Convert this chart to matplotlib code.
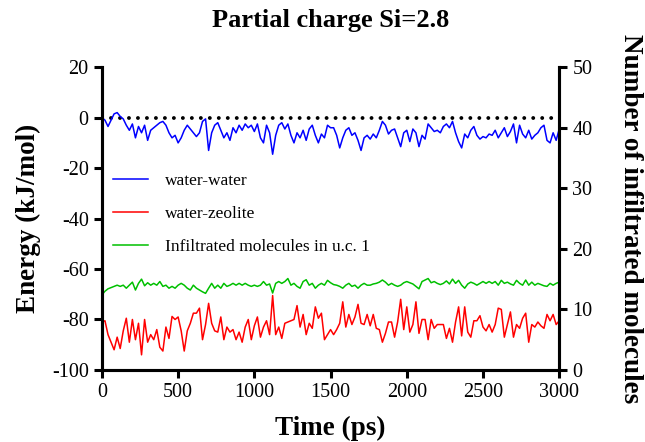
import numpy as np
import matplotlib

matplotlib.use("Agg")

import matplotlib.pyplot as plt

# Energies (kJ/mol) and infiltrated molecules, sampled every 20 ps from 0 to 3000 ps
STEP_PS = 20

water_water = [
    0, -1, -3.5, -1, 1.5, 2, 0.5, -0.5, -3, -5,
    -2.5, -8, -3.5, -6, -3, -9, -5, -4, -3, -2,
    -1.5, -3, -6, -8, -7, -10, -8, -5, -3, -4.5,
    -6, -7.5, -6, -1.5, -0.5, -13, -6, -3, -2, -5,
    -8, -6, -9, -4, -6, -3, -5, -2.5, -4, -3,
    -5.5, -2.5, -8, -10, -3, -6, -14.5, -7, -3, -2,
    -4.5, -2.5, -7, -10, -6, -8, -5, -9, -4.5, -3,
    -7, -10, -6.5, -8, -3,
    -4, -4, -7, -12, -8, -5, -4, -7, -6, -9,
    -13, -8, -7, -8.5, -6.5, -8, -5, -1.5, -3, -6.5,
    -5, -4.5, -8, -11.5, -6, -5, -9.5, -4.5, -6, -11.5,
    -7, -8.5, -2.5, -4, -5.5, -5, -6, -3.5, -2.5, -4,
    -1.5, -6, -9.5, -12, -6.5, -8, -5, -3.5, -7, -8.5,
    -7.5, -8, -6.5, -7, -5, -8, -6, -4, -7.5, -5.5,
    -2.5, -10, -3, -6.5, -8, -5, -8.5, -7, -6, -4,
    -3, -9, -10, -6, -9, -4.5,
]

water_zeolite = [
    -81, -80.5, -86, -89, -92, -87, -91.5, -84.5, -79.5, -89,
    -80, -88, -81.5, -94, -80, -89, -86, -88, -84, -91,
    -92.5, -83, -87.5, -78.8, -80, -79, -84.5, -92.5, -84.5, -81.5,
    -77.5, -77.5, -75.5, -88, -82, -73.6, -81.5, -84.5, -85, -79,
    -88, -83, -85, -84, -88, -85, -89, -83, -80, -88,
    -82.5, -79, -87, -83, -80.5, -86, -70.5, -86, -83, -87.5,
    -81.5, -81, -80.5, -80, -74.5, -83, -78, -86, -81.5, -83.5,
    -75, -79.5, -77.5, -88, -86,
    -84, -86, -84, -81.5, -73, -83, -78, -82, -79, -74,
    -81.5, -82, -78, -82.5, -78, -83.5, -84, -89, -85.5, -81,
    -81, -87, -81, -72, -84, -75, -85, -82, -73, -85.5,
    -80, -80, -88, -80, -83.5, -82, -82, -82, -87.5, -83.5,
    -89, -81, -75, -86.5, -75, -85, -87, -80.5, -80.5, -78.5,
    -83, -84.5, -82, -85, -82, -75.5, -76, -87, -82, -77,
    -87, -82, -83.5, -79.5, -77.5, -89, -82, -83, -81, -82.5,
    -83.5, -78, -80.5, -78, -82, -80.5,
]

infiltrated = [
    12.4, 13.0, 13.4, 13.6, 13.8, 14.0, 13.8, 14.0, 13.5, 14.0,
    14.5, 13.2, 14.3, 15.0, 13.9, 14.4, 14.0, 14.3, 14.0, 14.6,
    13.8, 14.0, 13.5, 13.8, 13.5, 14.0, 14.3, 14.0, 13.5, 13.2,
    14.0, 13.5, 13.2, 12.9, 12.65, 13.5, 14.3, 13.5, 14.0, 13.5,
    14.3, 13.8, 14.0, 14.3, 14.0, 14.3, 14.0, 14.3, 14.0, 13.8,
    14.0, 13.8, 14.0, 14.6, 14.0, 14.2, 12.7, 14.3, 14.6, 14.3,
    14.6, 15.1, 14.0, 14.3, 13.8, 13.5, 14.6, 14.9, 14.0, 14.3,
    13.5, 14.0, 14.3, 14.0, 14.8,
    14.4, 14.1, 14.0, 13.8, 13.5, 14.0, 14.3, 13.8, 14.0, 13.5,
    14.0, 14.3, 14.0, 14.0, 14.2, 14.3, 14.5, 14.85, 14.5, 14.0,
    14.3, 14.0, 13.8, 14.0, 14.4, 14.6, 14.4, 14.2, 13.8, 13.4,
    14.6, 14.85, 15.1, 14.4, 14.6, 14.3, 14.1, 14.3, 14.7, 14.2,
    15.0, 14.3, 14.8, 14.0, 13.5, 14.2, 14.5, 14.3, 14.0, 14.3,
    14.6, 14.3, 14.6, 14.3, 14.6, 14.0, 14.8, 14.3, 14.5, 14.2,
    14.0, 14.8, 14.3, 14.0, 14.85, 14.0, 14.5, 14.0, 14.3, 14.1,
    13.9, 13.8, 14.3, 14.0, 14.3, 14.5,
]

x_ticks = [0, 500, 1000, 1500, 2000, 2500, 3000]
left_ticks = [-100, -80, -60, -40, -20, 0, 20]
right_ticks = [0, 10, 20, 30, 40, 50]


def times(values):
    return np.arange(len(values)) * STEP_PS


plt.rcParams["font.family"] = ["Liberation Serif", "DejaVu Serif"]
plt.rcParams["axes.unicode_minus"] = False

fig = plt.figure(figsize=(6.45, 4.42), dpi=100)
ax = fig.add_axes([0.158, 0.163, 0.709, 0.685])
ax2 = ax.twinx()

# reference line at zero energy
ax.plot([0, 3000], [0, 0], color="black", lw=2.8,
        linestyle=(0, (0.01, 2.3)), dash_capstyle="round", zorder=1)

ax.plot(times(water_water), water_water, color="#0000ff", lw=1.1,
        label="water-water", zorder=3)
ax.plot(times(water_zeolite), water_zeolite, color="#ff0000", lw=1.1,
        label="water-zeolite", zorder=3)
ax2.plot(times(infiltrated), infiltrated, color="#00c000", lw=1.1,
         label="Infiltrated molecules in u.c. 1")

ax.set_xlim(0, 3000)
ax.set_ylim(-100, 20)
ax2.set_ylim(0, 50)
ax.set_xticks(x_ticks)
ax.set_yticks(left_ticks)
ax2.set_yticks(right_ticks)

for a in (ax, ax2):
    for side in ("left", "right", "bottom"):
        a.spines[side].set_linewidth(2.2)
    a.spines["top"].set_visible(False)
    a.tick_params(width=2.2, length=6, labelsize=14.5, direction="out")

ax.set_xlabel("Time (ps)", fontsize=19.5, fontweight="bold", labelpad=10)
ax.set_ylabel("Energy (kJ/mol)", fontsize=19.5, fontweight="bold", labelpad=8)
ax2.set_ylabel("Number of infiltrated molecules", fontsize=19.5,
               fontweight="bold", rotation=270, labelpad=36)
ax.set_title("Partial charge Si=2.8", fontsize=19, fontweight="bold", pad=29)

lines = ax.get_lines()[1:] + ax2.get_lines()
leg = ax.legend(lines, [l.get_label() for l in lines], loc="upper left",
                bbox_to_anchor=(0.009, 0.673), borderaxespad=0, frameon=False,
                fontsize=12.5, handlelength=2.0, labelspacing=0.95,
                handletextpad=1.0)

fig.savefig("out.png", dpi=100)
